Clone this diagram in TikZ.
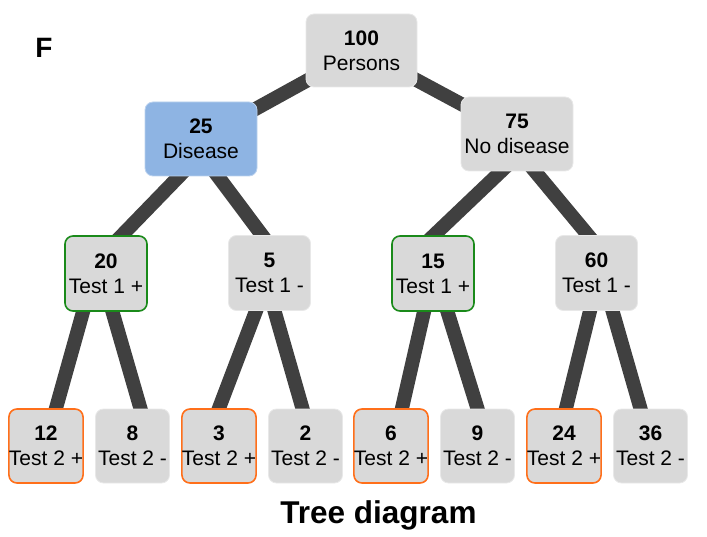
\documentclass[tikz,border=0pt]{standalone}
\usepackage{fontspec}
\setmainfont{Liberation Sans}
\usetikzlibrary{backgrounds}
\definecolor{boxgray}{HTML}{D9D9D9}
\definecolor{boxblue}{HTML}{8EB4E3}
\definecolor{edgegray}{HTML}{404040}
\definecolor{posgreen}{HTML}{1A8A1A}
\definecolor{posorange}{HTML}{FF6F1A}
\tikzset{
  cell/.style={rectangle, rounded corners=8pt, fill=boxgray, draw=boxgray!60!white,
    line width=0.8pt, inner sep=0pt, align=center,
    font=\fontsize{21}{25}\selectfont},
  topcell/.style={cell, minimum width=111pt, minimum height=73pt},
  midcell/.style={cell, minimum width=112pt, minimum height=74pt},
  testcell/.style={cell, minimum width=82pt, minimum height=75pt},
  leafcell/.style={cell, minimum width=74pt, minimum height=74pt},
  sick/.style={fill=boxblue, draw=boxblue!60!white},
  firstpos/.style={draw=posgreen, line width=1.6pt},
  secondpos/.style={draw=posorange, line width=1.6pt},
  branch/.style={draw=edgegray, line width=14pt, shorten <=-8pt, shorten >=-8pt},
}
\begin{document}
\begin{tikzpicture}[x=1pt, y=-1pt]
\useasboundingbox (0,0) rectangle (707,537);

% panel letter and caption
\node[font=\fontsize{28}{30}\selectfont\bfseries] (panel) at (44,47.5) {F};
\node[font=\fontsize{31.5}{34}\selectfont\bfseries, anchor=base] (caption) at (378.5,523) {Tree diagram};

% root and first split
\node[topcell] (root) at (361.5,50.5) {\textbf{100}\\Persons};
\node[midcell, sick] (dis) at (201,139) {\textbf{25}\\Disease};
\node[midcell] (nodis) at (517,134) {\textbf{75}\\No disease};

% first test
\node[testcell, firstpos] (ta) at (106,273.5) {\textbf{20}\\Test 1 +};
\node[testcell] (tb) at (269.5,273) {\textbf{5}\\Test 1 -};
\node[testcell, firstpos] (tc) at (433,273.5) {\textbf{15}\\Test 1 +};
\node[testcell] (td) at (596.5,273) {\textbf{60}\\Test 1 -};

% second test
\node[leafcell, secondpos] (l1) at (46,446) {\textbf{12}\\Test 2 +};
\node[leafcell] (l2) at (132.5,446) {\textbf{8}\\Test 2 -};
\node[leafcell, secondpos] (l3) at (219,446) {\textbf{3}\\Test 2 +};
\node[leafcell] (l4) at (305.5,446) {\textbf{2}\\Test 2 -};
\node[leafcell, secondpos] (l5) at (391,446) {\textbf{6}\\Test 2 +};
\node[leafcell] (l6) at (477.5,446) {\textbf{9}\\Test 2 -};
\node[leafcell, secondpos] (l7) at (564,446) {\textbf{24}\\Test 2 +};
\node[leafcell] (l8) at (650.5,446) {\textbf{36}\\Test 2 -};

% branches behind the boxes
\begin{pgfonlayer}{background}
  \draw[branch] (root.center) -- (dis.center);
  \draw[branch] (root.center) -- (nodis.center);
  \draw[branch] ([xshift=-22pt]dis.south) -- ([xshift=16pt]ta.north);
  \draw[branch] ([xshift=17pt]dis.south) -- ([xshift=-7.5pt]tb.north);
  \draw[branch] ([xshift=-16pt]nodis.south) -- ([xshift=1pt]tc.north);
  \draw[branch] ([xshift=18pt]nodis.south) -- ([xshift=-8.5pt]td.north);
  \draw[branch] ([xshift=-23pt]ta.south) -- ([xshift=10pt]l1.north);
  \draw[branch] ([xshift=6.5pt]ta.south) -- ([xshift=8pt]l2.north);
  \draw[branch] ([xshift=-13.5pt]tb.south) -- (l3.north);
  \draw[branch] ([xshift=5pt]tb.south) -- ([xshift=-3pt]l4.north);
  \draw[branch] ([xshift=-9pt]tc.south) -- ([xshift=11pt]l5.north);
  \draw[branch] ([xshift=14.5pt]tc.south) -- (l6.north);
  \draw[branch] ([xshift=-6.5pt]td.south) -- ([xshift=2pt]l7.north);
  \draw[branch] ([xshift=16pt]td.south) -- ([xshift=-10pt]l8.north);
\end{pgfonlayer}
\end{tikzpicture}
\end{document}
